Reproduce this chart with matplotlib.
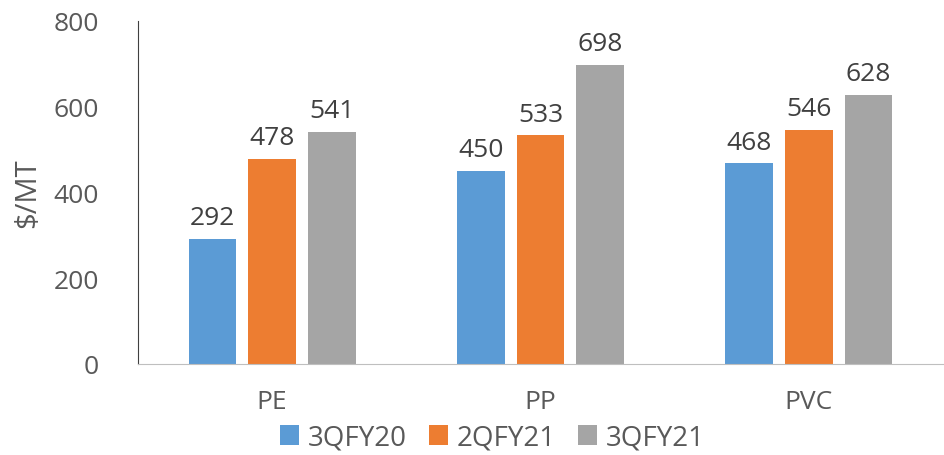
import matplotlib.pyplot as plt
import numpy as np

plt.rcParams['font.family'] = ['Open Sans', 'DejaVu Sans']

categories = ['PE', 'PP', 'PVC']
series_names = ['3QFY20', '2QFY21', '3QFY21']
values = [
    [292, 450, 468],
    [478, 533, 546],
    [541, 698, 628],
]
colors = ['#5B9BD5', '#ED7D31', '#A5A5A5']

fig = plt.figure(figsize=(9.45, 4.56), dpi=100)
ax = fig.add_axes([0.146, 0.2, 0.852, 0.752])

x = np.arange(len(categories))
width = 0.178
step = 0.222
for i, (name, vals, c) in enumerate(zip(series_names, values, colors)):
    pos = x + (i - 1) * step
    bars = ax.bar(pos, vals, width, color=c, label=name)
    for b, v in zip(bars, vals):
        ax.text(b.get_x() + b.get_width() / 2, v + 20, str(v),
                ha='center', va='bottom', fontsize=19, color='#404040')

ax.set_xlim(-0.5, 2.5)
ax.set_ylim(0, 800)
ax.set_yticks([0, 200, 400, 600, 800])
ax.set_xticks(x)
ax.set_xticklabels(categories)
ax.tick_params(axis='both', length=0, labelsize=19, colors='#595959')
ax.tick_params(axis='x', pad=18)
ax.tick_params(axis='y', pad=28)
ax.set_ylabel('$/MT', fontsize=21, color='#595959', labelpad=8)

for s in ['top', 'right']:
    ax.spines[s].set_visible(False)
ax.spines['left'].set_color('#404040')
ax.spines['bottom'].set_color('#BFBFBF')

ax.legend(loc='center', bbox_to_anchor=(0.44, -0.215), ncol=3, frameon=False,
          fontsize=20, handlelength=0.7, handleheight=0.7, columnspacing=0.8,
          handletextpad=0.3, labelcolor='#595959')

fig.savefig('out.png', dpi=100)
